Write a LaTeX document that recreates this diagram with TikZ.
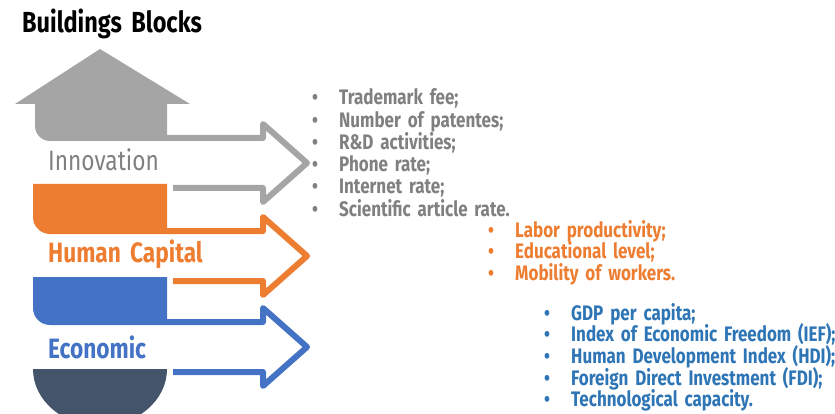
\documentclass[tikz,border=0pt]{standalone}
\usepackage{fontspec}
\setmainfont{Fira Sans}[FakeStretch=0.81, WordSpace=1.7]
\usepackage{tikz}
\usetikzlibrary{calc}
\definecolor{blockgray}{HTML}{A5A5A5}
\definecolor{textgray}{HTML}{808080}
\definecolor{blockorange}{HTML}{ED7D31}
\definecolor{blockblue}{HTML}{4472C4}
\definecolor{textblue}{HTML}{2E75B6}
\definecolor{blockdark}{HTML}{44546A}
\def\buildarrow[#1](#2){\draw[#1] (167,#2-25) -- (263,#2-25) -- (263,#2-39) -- (307,#2) -- (263,#2+39) -- (263,#2+25) -- (173,#2+25);}
\def\dotitem{\makebox[27pt][l]{\textbullet}}
\tikzset{
	arrowline/.style={line width=6pt, line join=round},
	blocklabel/.style={anchor=base west, inner sep=0pt, font=\fontsize{28}{28}\selectfont\bfseries},
	itemtext/.style={anchor=base west, inner sep=0pt, font=\fontsize{21}{21}\selectfont\bfseries}
}

\begin{document}
\begin{tikzpicture}[x=1pt, y=-1pt]
		%%%%% START %%%%%
		\useasboundingbox (0,0) rectangle (835,414);
		
		\node[blocklabel, font=\fontsize{29}{29}\selectfont\bfseries] (title) at (22,33) {Buildings Blocks};
		
		% innovation (roof)
		\fill[blockgray] (15,104) -- (100,49) -- (190,104) -- (167,104) -- (167,141) -- (50,141) arc[start angle=90, end angle=180, radius=15] -- (35,104) -- cycle;
		\buildarrow[arrowline, blockgray](163);
		\node[blocklabel, text=textgray, font=\fontsize{28}{28}\selectfont\mdseries] (innovation) at (48,171) {Innovation};
		
		% human capital
		\fill[blockorange] (33,184) -- (167,184) -- (167,234) -- (50,234) arc[start angle=90, end angle=180, radius=17] -- cycle;
		\buildarrow[arrowline, blockorange](256);
		\node[blocklabel, text=blockorange] (human) at (48,262) {Human Capital};
		
		% economic
		\fill[blockblue] (33,277) -- (167,277) -- (167,325) -- (50,325) arc[start angle=90, end angle=180, radius=17] -- cycle;
		\buildarrow[arrowline, blockblue](347);
		\node[blocklabel, text=blockblue] (economic) at (48,358) {Economic};
		
		% base
		\begin{scope}
			\clip (0,0) rectangle (835,414);
			\fill[blockdark] (33,369) -- (167,369) arc[start angle=0, end angle=180, x radius=67, y radius=57] -- cycle;
		\end{scope}
		
		% lists
		\foreach \txt [count=\i] in {{Trademark fee;}, {Number of patentes;}, {R\&D activities;}, {Phone rate;}, {Internet rate;}, {Scientific article rate.}}
			\node[itemtext, text=textgray] (inn\i) at (312,{105+22.2*(\i-1)}) {\dotitem\txt};
		
		\foreach \txt [count=\i] in {{Labor productivity;}, {Educational level;}, {Mobility of workers.}}
			\node[itemtext, text=blockorange] (hum\i) at (488,{237+21.5*(\i-1)}) {\dotitem\txt};
		
		\foreach \txt [count=\i] in {{GDP per capita;}, {Index of Economic Freedom (IEF);}, {Human Development Index (HDI);}, {Foreign Direct Investment (FDI);}, {Technological capacity.}}
			\node[itemtext, text=textblue] (eco\i) at (544,{320+21.7*(\i-1)}) {\dotitem\txt};
		
		%%%%% END %%%%%
	\end{tikzpicture}
\end{document}
